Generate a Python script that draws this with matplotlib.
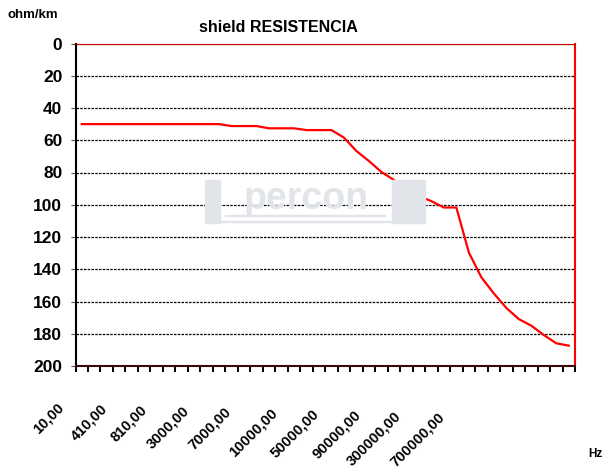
import matplotlib.pyplot as plt
from matplotlib.patches import Rectangle
import numpy as np

plt.rcParams['font.family'] = ['Liberation Sans', 'DejaVu Sans']
plt.rcParams['font.weight'] = 'bold'

# shield resistance (ohm/km) at each of the 40 frequency points
resistance = [50, 50, 50, 50, 50, 50, 50, 50, 50, 50, 50, 50,
              51.2, 51.2, 51.2, 52.6, 52.6, 52.6, 53.7, 53.7, 53.7,
              58.4, 66.7, 72.9, 79.7, 84.6, 90.8, 94.5, 97.8, 101.7, 101.7,
              129.6, 145, 155, 164, 170.9, 175, 180.8, 185.9, 187.4]
freq_labels = ['10,00', '410,00', '810,00', '3000,00', '7000,00', '10000,00',
               '50000,00', '90000,00', '300000,00', '700000,00']
y_ticks = [0, 20, 40, 60, 80, 100, 120, 140, 160, 180, 200]

W, H = 606, 468
fig = plt.figure(figsize=(W / 100, H / 100), dpi=100)
x0, x1, y0, y1 = 75.5, 575, 43.5, 366
ax = fig.add_axes([x0 / W, 1 - y1 / H, (x1 - x0) / W, (y1 - y0) / H])

n = len(resistance)
x = np.arange(n)
ax.plot(x, resistance, color='#ff0000', lw=1.6, zorder=3)

ax.set_xlim(-0.5, n - 0.5)
ax.set_ylim(200, 0)
ax.set_yticks(y_ticks)
ax.set_yticklabels([str(v) for v in y_ticks], fontsize=12.5, fontweight='bold')
ax.tick_params(axis='y', length=3.5, width=0.8, color='#555555', pad=6)
ax.yaxis.grid(True, color='black', lw=0.9, linestyle=(0, (2, 1)))
ax.set_axisbelow(True)

# category boundary ticks on the x axis
ax.set_xticks([])
ax.set_xticks(np.arange(n + 1) - 0.5, minor=True)
ax.tick_params(axis='x', which='minor', length=4, width=1.4, color='black')

ax.spines['left'].set_color('black')
ax.spines['left'].set_linewidth(1.5)
ax.spines['bottom'].set_color('#3a0808')
ax.spines['bottom'].set_linewidth(1.5)
ax.spines['right'].set_color('#ff0000')
ax.spines['right'].set_linewidth(1.5)
ax.spines['top'].set_color('#cc0000')
ax.spines['top'].set_linewidth(0.8)

# rotated frequency labels (top-right corner positions)
label_x_px = [57, 100, 140, 182, 224, 270, 312, 354, 394, 437]
label_y_px = [400, 402, 403, 404, 405, 406, 407, 408, 409, 410]
for lab, px, py in zip(freq_labels, label_x_px, label_y_px):
    fig.text(px / W, 1 - py / H, lab, rotation=45, rotation_mode='anchor',
             ha='right', va='top', fontsize=10.5, fontweight='bold')

# watermark logo
wm_color = '#e1e4e9'
fig.patches.append(Rectangle((205 / W, 1 - 223 / H), 15 / W, 43 / H,
                             transform=fig.transFigure, color=wm_color, zorder=0))
fig.patches.append(Rectangle((392 / W, 1 - 223 / H), 33 / W, 43 / H,
                             transform=fig.transFigure, color=wm_color, zorder=0))
fig.patches.append(Rectangle((225 / W, 1 - 216 / H), 160 / W, 1.5 / H,
                             transform=fig.transFigure, color=wm_color, zorder=0))
fig.patches.append(Rectangle((205 / W, 1 - 222 / H), 220 / W, 1.5 / H,
                             transform=fig.transFigure, color=wm_color, zorder=0))
fig.text(306 / W, 1 - 199 / H, 'percon', ha='center', va='center',
         fontsize=27, fontweight='bold', color=wm_color, zorder=0)

fig.text(278.5 / W, 1 - 28 / H, 'shield RESISTENCIA', ha='center', va='center',
         fontsize=11.5, fontweight='bold')
fig.text(7 / W, 1 - 15 / H, 'ohm/km', ha='left', va='center',
         fontsize=9.5, fontweight='bold')
fig.text(588 / W, 1 - 454 / H, 'Hz', ha='left', va='center',
         fontsize=8.5, fontweight='bold')

fig.savefig('out.png', dpi=100)
